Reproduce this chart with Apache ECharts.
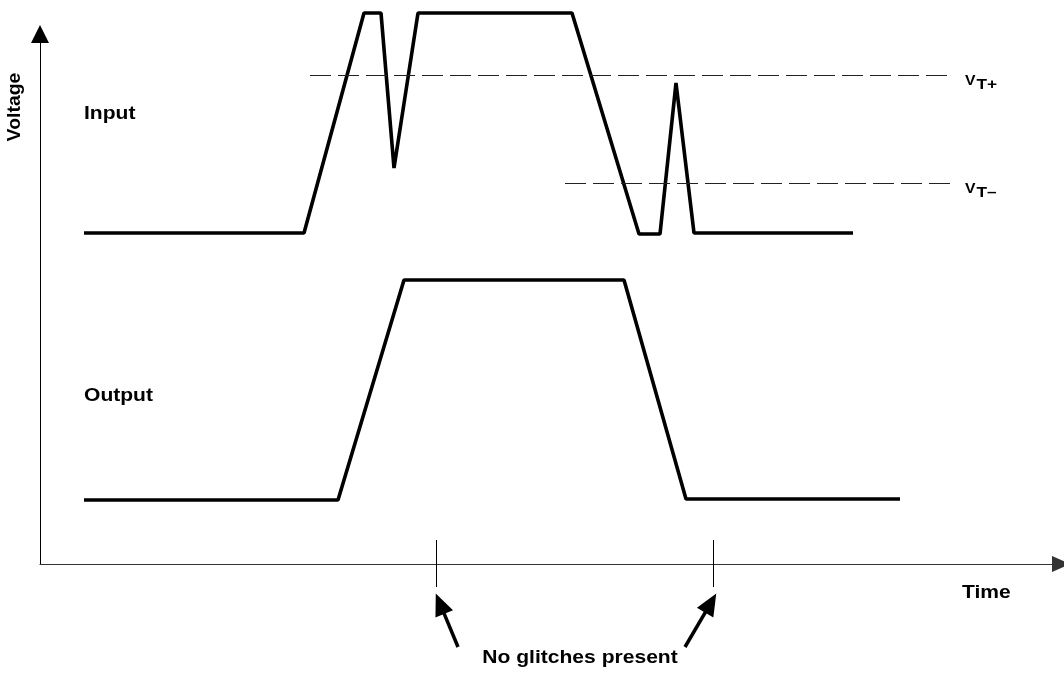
<!DOCTYPE html>
<html><head><meta charset="utf-8">
<script src="https://cdn.jsdelivr.net/npm/echarts@6/dist/echarts.min.js"></script>
<style>html,body{margin:0;padding:0;background:#fff}#c{width:1064px;height:673px}</style>
</head><body><div id="c"></div>
<script>
// Arbitrary schematic units: time t, voltage v
const inputTime  = [4.4, 26.4, 32.4, 34.1, 35.4, 37.8, 53.2, 59.9, 62.0, 63.6, 65.4, 81.3];
const inputVolt  = [33.1, 33.1, 55.1, 55.1, 39.6, 55.1, 55.1, 33.0, 33.0, 48.1, 33.1, 33.1];
const outputTime = [4.4, 29.8, 36.4, 58.4, 64.6, 86.0];
const outputVolt = [6.4, 6.4, 28.4, 28.4, 6.5, 6.5];

const thresholdMain  = ['V', 'V'];
const thresholdSub   = ['T+', 'T\u2013'];
const thresholdLevel = [48.85, 38.05];
const thresholdStart = [27.0, 52.5];
const thresholdEnd   = [91.2, 91.2];

const markerTime = [39.65, 67.35];         // instants marked on the time axis
const arrowFromT = [41.8, 64.5];
const arrowFromV = [-8.3, -8.3];
const arrowToT   = [40.0, 67.07];
const arrowToV   = [-3.97, -3.91];

const textLabels = ['Input', 'Output', 'Voltage', 'Time', 'No glitches present'];
const textT      = [4.4, 4.4, -2.5, 92.2, 54.0];
const textV      = [45.0, 16.8, 45.7, -2.9, -9.4];

const FONT = '"Liberation Sans", Arial, Helvetica, sans-serif';
const chart = echarts.init(document.getElementById('c'), null, {renderer: 'canvas'});

const series = [];
series.push({
  type: 'line', xAxisIndex: 1, yAxisIndex: 1, symbol: 'none', animation: false, silent: true,
  data: inputTime.map((t, i) => [t, inputVolt[i]]),
  lineStyle: {color: '#000', width: 3.6}
});
series.push({
  type: 'line', xAxisIndex: 1, yAxisIndex: 1, symbol: 'none', animation: false, silent: true,
  data: outputTime.map((t, i) => [t, outputVolt[i]]),
  lineStyle: {color: '#000', width: 3.6},
  markLine: {
    silent: true, animation: false,
    symbol: ['none', 'triangle'], symbolSize: 20,
    label: {show: false},
    lineStyle: {color: '#000', width: 3.5, type: 'solid'},
    data: arrowFromT.map((t, i) => [
      {coord: [t, arrowFromV[i]], symbol: 'none'},
      {coord: [arrowToT[i], arrowToV[i]], symbol: 'triangle', symbolSize: [19, 22]}
    ])
  }
});
thresholdLevel.forEach((lv, i) => {
  series.push({
    type: 'line', xAxisIndex: 1, yAxisIndex: 1, symbol: 'none', animation: false, silent: true,
    data: [[thresholdStart[i], lv], [thresholdEnd[i], lv]],
    lineStyle: {color: '#222', width: 1, type: [21, 7]}
  });
});
markerTime.forEach((t) => {
  series.push({
    type: 'line', xAxisIndex: 1, yAxisIndex: 1, symbol: 'none', animation: false, silent: true,
    data: [[t, -2.3], [t, 2.4]],
    lineStyle: {color: '#000', width: 1}
  });
});

chart.setOption({
  backgroundColor: '#fff',
  animation: false,
  grid: [
    {left: 40, right: 3, top: 34, bottom: 109},
    {left: 0, right: 0, top: 0, bottom: 0}
  ],
  xAxis: [
    {gridIndex: 0, type: 'value', min: 0, max: 102.1,
      axisLine: {show: true, onZero: false, symbol: ['none', 'triangle'], symbolSize: [16, 18],
        lineStyle: {color: '#333', width: 1.2}},
      axisTick: {show: false}, axisLabel: {show: false}, splitLine: {show: false}},
    {gridIndex: 1, type: 'value', min: -4, max: 102.4, show: false}
  ],
  yAxis: [
    {gridIndex: 0, type: 'value', min: 0, max: 53,
      axisLine: {show: true, onZero: false, symbol: ['none', 'triangle'], symbolSize: [18, 18],
        lineStyle: {color: '#000', width: 1}},
      axisTick: {show: false}, axisLabel: {show: false}, splitLine: {show: false}},
    {gridIndex: 1, type: 'value', min: -10.9, max: 56.4, show: false}
  ],
  series: series
});

const graphics = [];
textLabels.forEach((txt, i) => {
  const p = chart.convertToPixel({gridIndex: 1}, [textT[i], textV[i]]);
  const isVolt = txt === 'Voltage';
  const centered = isVolt || txt === 'No glitches present';
  graphics.push({
    type: 'text', x: p[0], y: p[1], silent: true,
    rotation: isVolt ? Math.PI / 2 : 0,
    scaleX: isVolt ? 1.08 : 1.17,
    style: {text: txt, font: 'bold 18px ' + FONT, fill: '#000',
      align: centered ? 'center' : 'left', verticalAlign: 'middle'}
  });
});
thresholdLevel.forEach((lv, i) => {
  const p = chart.convertToPixel({gridIndex: 1}, [thresholdEnd[i] + 1.3, lv]);
  graphics.push({
    type: 'text', x: p[0], y: p[1] + 5, scaleX: 1.05, silent: true,
    style: {text: thresholdMain[i], font: 'bold 15px ' + FONT, fill: '#000', align: 'left', verticalAlign: 'middle'}
  });
  graphics.push({
    type: 'text', x: p[0] + 11.5, y: p[1] + 9, scaleX: 1.15, silent: true,
    style: {text: thresholdSub[i], font: 'bold 15px ' + FONT, fill: '#000', align: 'left', verticalAlign: 'middle'}
  });
});
chart.setOption({graphic: graphics});
</script>
</body></html>
